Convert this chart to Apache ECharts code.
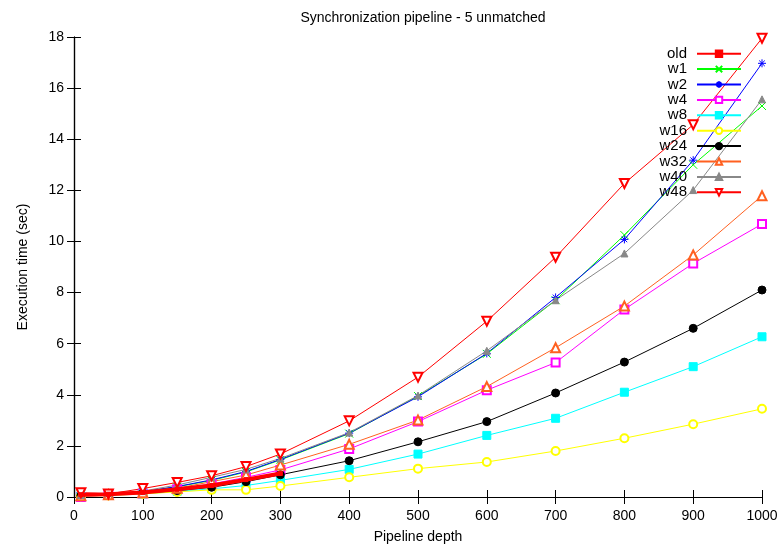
<!DOCTYPE html>
<html>
<head>
<meta charset="utf-8">
<title>Synchronization pipeline - 5 unmatched</title>
<script src="https://cdn.jsdelivr.net/npm/echarts@6/dist/echarts.min.js"></script>
<style>
  html, body { margin: 0; padding: 0; background: #fff; }
  #chart { width: 783px; height: 551px; }
</style>
</head>
<body>
<div id="chart"></div>
<script>
    // pipeline depth (x)
    var depths = [10, 50, 100, 150, 200, 250, 300, 400, 500, 600, 700, 800, 900, 1000];
    var yTicks = [0, 2, 4, 6, 8, 10, 12, 14, 16, 18];

    // execution time (sec)
    var oldRun = [0.09, 0.11, 0.18, 0.30, 0.45, 0.68, 0.92];
    var w1  = [0.10, 0.12, 0.20, 0.40, 0.65, 0.98, 1.45, 2.48, 3.95, 5.60, 7.70, 10.25, 13.00, 15.30];
    var w2  = [0.10, 0.12, 0.21, 0.41, 0.67, 1.00, 1.47, 2.50, 3.92, 5.62, 7.81, 10.08, 13.18, 16.97];
    var w4  = [0.00, 0.09, 0.14, 0.30, 0.51, 0.77, 1.06, 1.88, 2.95, 4.18, 5.26, 7.34, 9.14, 10.68];
    var w8  = [0.04, 0.07, 0.12, 0.22, 0.32, 0.45, 0.65, 1.08, 1.68, 2.41, 3.08, 4.10, 5.10, 6.27];
    var w16 = [0.03, 0.06, 0.12, 0.20, 0.28, 0.28, 0.43, 0.77, 1.11, 1.37, 1.80, 2.30, 2.85, 3.45];
    var w24 = [0.05, 0.08, 0.15, 0.25, 0.38, 0.60, 0.87, 1.42, 2.16, 2.95, 4.07, 5.28, 6.60, 8.10];
    var w32 = [0.05, 0.09, 0.17, 0.34, 0.60, 0.86, 1.25, 2.06, 3.01, 4.32, 5.84, 7.47, 9.47, 11.79];
    var w40 = [0.08, 0.15, 0.23, 0.47, 0.77, 1.08, 1.51, 2.52, 3.97, 5.72, 7.70, 9.53, 12.01, 15.56];
    var w48 = [0.17, 0.12, 0.33, 0.57, 0.83, 1.19, 1.68, 2.98, 4.69, 6.88, 9.38, 12.27, 14.57, 17.95];

    var FONT = 'Liberation Sans';
    var crossPath = 'path://M0,0L10,10M10,0L0,10';
    var starPath = 'path://M5,0L5,10M0,5L10,5M1.5,1.5L8.5,8.5M8.5,1.5L1.5,8.5';

    function pairs(vals) {
        var out = [];
        for (var i = 0; i < vals.length; i++) {
            out.push([depths[i], vals[i]]);
        }
        return out;
    }

    function mk(name, vals, color, symbol, size, opts) {
        opts = opts || {};
        return {
            name: name,
            type: 'line',
            data: pairs(vals),
            symbol: symbol,
            symbolSize: size,
            symbolRotate: opts.rotate || 0,
            showAllSymbol: true,
            animation: false,
            color: color,
            lineStyle: { color: color, width: opts.width || 1 },
            itemStyle: { color: opts.fill || color, borderColor: color, borderWidth: 1 },
            z: opts.z || 2
        };
    }

    var seriesList = [
        mk('old', oldRun, '#ff0000', 'rect', 4, { width: 4, z: 3 }),
        mk('w1', w1, '#00ff00', crossPath, 8),
        mk('w2', w2, '#0000ff', starPath, 8),
        mk('w4', w4, '#ff00ff', 'emptyRect', 8),
        mk('w8', w8, '#00ffff', 'rect', 8),
        mk('w16', w16, '#ffff00', 'emptyCircle', 8),
        mk('w24', w24, '#000000', 'circle', 8),
        mk('w32', w32, '#ff6020', 'emptyTriangle', 9),
        mk('w40', w40, '#888888', 'triangle', 7),
        mk('w48', w48, '#ff0000', 'emptyTriangle', 9, { rotate: 180 })
    ];

    var chart = echarts.init(document.getElementById('chart'));
    var tickStyle = { show: true, inside: true, length: 7, lineStyle: { color: '#000', width: 1 } };
    var lineStyleAx = { show: true, lineStyle: { color: '#000', width: 1.2 } };
    var labelStyle = { color: '#000', fontSize: 14, fontFamily: FONT };

    chart.setOption({
        backgroundColor: '#fff',
        animation: false,
        title: {
            text: 'Synchronization pipeline - 5 unmatched',
            left: 418,
            top: 6,
            textAlign: 'center',
            textStyle: { color: '#000', fontSize: 14, fontWeight: 'normal', fontFamily: FONT }
        },
        legend: {
            orient: 'vertical',
            align: 'right',
            right: 41,
            top: 46,
            padding: 0,
            itemWidth: 44,
            itemHeight: 8,
            itemGap: 0,
            textStyle: { color: '#000', fontSize: 15, fontFamily: FONT, lineHeight: 15.4, padding: [0, 5, 0, 0] },
            data: ['old', 'w1', 'w2', 'w4', 'w8', 'w16', 'w24', 'w32', 'w40', 'w48']
        },
        grid: { left: 74, right: 21, top: 37, bottom: 54 },
        xAxis: [{
            type: 'value',
            min: 0, max: 1000, interval: 100,
            name: 'Pipeline depth',
            nameLocation: 'middle',
            nameGap: 33,
            nameTextStyle: labelStyle,
            axisLine: lineStyleAx,
            axisTick: tickStyle,
            axisLabel: { color: '#000', fontSize: 14, fontFamily: FONT, margin: 12,
                formatter: function (v) { return String(v); } },
            splitLine: { show: false }
        }, {
            type: 'value',
            position: 'top',
            min: 0, max: 1000, interval: 100,
            axisLine: lineStyleAx,
            axisTick: tickStyle,
            axisLabel: { show: false },
            splitLine: { show: false }
        }],
        yAxis: [{
            type: 'value',
            min: yTicks[0], max: yTicks[yTicks.length - 1], interval: 2,
            name: 'Execution time (sec)',
            nameLocation: 'middle',
            nameRotate: 90,
            nameGap: 44,
            nameTextStyle: labelStyle,
            axisLine: lineStyleAx,
            axisTick: tickStyle,
            axisLabel: { color: '#000', fontSize: 14, fontFamily: FONT, margin: 10 },
            splitLine: { show: false }
        }, {
            type: 'value',
            position: 'right',
            min: yTicks[0], max: yTicks[yTicks.length - 1], interval: 2,
            axisLine: lineStyleAx,
            axisTick: tickStyle,
            axisLabel: { show: false },
            splitLine: { show: false }
        }],
        series: seriesList
    });
</script>
</body>
</html>
